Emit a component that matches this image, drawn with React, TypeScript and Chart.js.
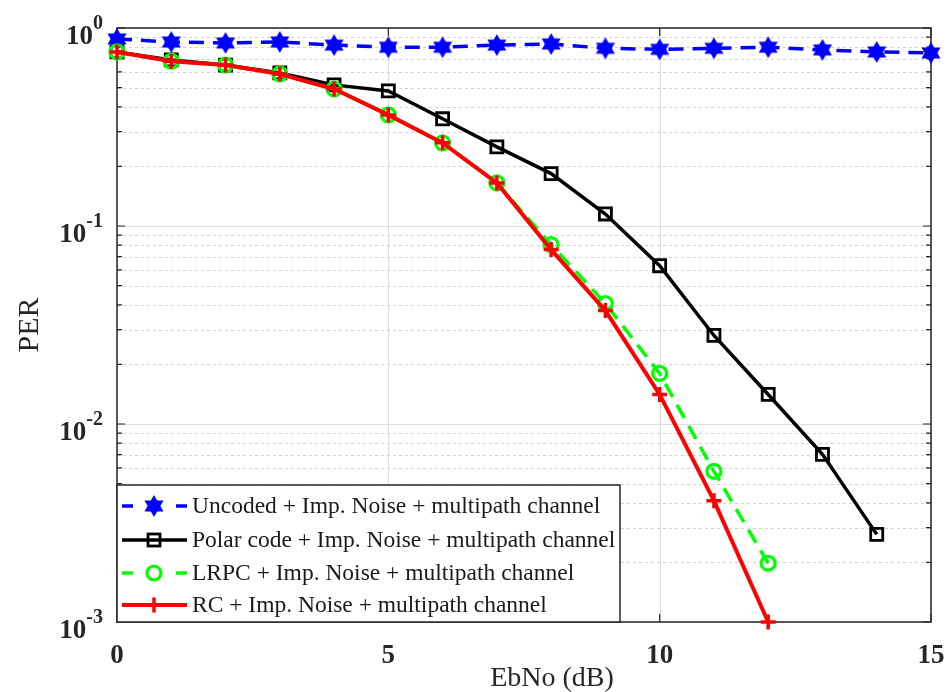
import React, { useEffect, useRef } from "react";
import { Chart, registerables } from "chart.js";
Chart.register(...registerables);

const ebno = [0, 1, 2, 3, 4, 5, 6, 7, 8, 9, 10, 11, 12, 13, 14, 15];
const uncoded = [0.88, 0.85, 0.84, 0.85, 0.82, 0.8, 0.8, 0.82, 0.83, 0.79, 0.78, 0.79, 0.8, 0.775, 0.757, 0.748];
const polar = [0.757, 0.69, 0.65, 0.593, 0.516, 0.481, 0.348, 0.251, 0.184, 0.115, 0.063, 0.028, 0.0141, 0.00703, 0.00277];
const lrpc = [0.757, 0.68, 0.65, 0.586, 0.492, 0.364, 0.263, 0.165, 0.0805, 0.0406, 0.018, 0.00577, 0.00198];
const rc = [0.757, 0.68, 0.65, 0.586, 0.492, 0.364, 0.263, 0.165, 0.076, 0.0374, 0.0141, 0.0041, 0.001];

const labels = [
  "Uncoded + Imp. Noise + multipath channel",
  "Polar code + Imp. Noise + multipath channel",
  "LRPC + Imp. Noise + multipath channel",
  "RC + Imp. Noise + multipath channel",
];
const xTicks = [0, 5, 10, 15];
const yTickExps = [0, -1, -2, -3];
const xTitle = "EbNo (dB)";
const yTitle = "PER";

const SERIF = "'Liberation Serif', 'Times New Roman', serif";

function makeHexagram(r: number, color: string) {
  const c = document.createElement("canvas");
  const s = Math.ceil(r * 2 + 2);
  c.width = s;
  c.height = s;
  const g = c.getContext("2d")!;
  const cx = s / 2, cy = s / 2;
  g.fillStyle = color;
  for (const off of [-Math.PI / 2, Math.PI / 2]) {
    g.beginPath();
    for (let k = 0; k < 3; k++) {
      const a = off + (k * 2 * Math.PI) / 3;
      const px = cx + r * Math.cos(a), py = cy + r * Math.sin(a);
      if (k === 0) g.moveTo(px, py); else g.lineTo(px, py);
    }
    g.closePath();
    g.fill();
  }
  return c;
}

const pts = (arr: number[]) => arr.map((v, i) => ({ x: ebno[i], y: v }));

export default function App() {
  const ref = useRef<HTMLCanvasElement>(null);
  useEffect(() => {
    const star = makeHexagram(11, "#0000ff");
    const styles = [
      { color: "#0000ff", dash: [15, 9], width: 3.5, point: star as any, pr: 11, pbw: 0, pbg: "#0000ff" },
      { color: "#000000", dash: [], width: 3.5, point: "rect", pr: 8.5, pbw: 2.8, pbg: "rgba(0,0,0,0)" },
      { color: "#00ff00", dash: [15, 9], width: 3.5, point: "circle", pr: 7, pbw: 3.2, pbg: "rgba(0,0,0,0)" },
      { color: "#ff0000", dash: [], width: 4, point: "cross", pr: 7.5, pbw: 3.5, pbg: "#ff0000" },
    ];
    const series = [uncoded, polar, lrpc, rc];

    const framePlugin = {
      id: "frame",
      beforeDatasetsDraw(chart: any) {
        const { ctx, chartArea: a, scales } = chart;
        const x = scales.x, y = scales.y;
        ctx.save();
        ctx.lineWidth = 1;
        ctx.strokeStyle = "#d2d2d2";
        ctx.setLineDash([3, 3]);
        for (let e = -3; e < 0; e++) {
          for (let m = 2; m <= 9; m++) {
            const py = Math.round(y.getPixelForValue(m * Math.pow(10, e))) + 0.5;
            ctx.beginPath();
            ctx.moveTo(a.left, py);
            ctx.lineTo(a.right, py);
            ctx.stroke();
          }
        }
        ctx.setLineDash([]);
        ctx.strokeStyle = "#dcdcdc";
        for (const e of yTickExps) {
          const py = Math.round(y.getPixelForValue(Math.pow(10, e))) + 0.5;
          ctx.beginPath();
          ctx.moveTo(a.left, py);
          ctx.lineTo(a.right, py);
          ctx.stroke();
        }
        for (const t of xTicks) {
          const px = Math.round(x.getPixelForValue(t)) + 0.5;
          ctx.beginPath();
          ctx.moveTo(px, a.top);
          ctx.lineTo(px, a.bottom);
          ctx.stroke();
        }
        ctx.strokeStyle = "#262626";
        ctx.lineWidth = 1.5;
        ctx.strokeRect(a.left, a.top, a.right - a.left, a.bottom - a.top);
        ctx.lineWidth = 1.2;
        for (let e = -3; e <= 0; e++) {
          for (let m = 1; m <= 9; m++) {
            if (e === 0 && m > 1) break;
            const py = y.getPixelForValue(m * Math.pow(10, e));
            const len = m === 1 ? 8 : 5;
            ctx.beginPath();
            ctx.moveTo(a.left, py);
            ctx.lineTo(a.left + len, py);
            ctx.moveTo(a.right, py);
            ctx.lineTo(a.right - len, py);
            ctx.stroke();
          }
        }
        for (const t of xTicks) {
          const px = x.getPixelForValue(t);
          ctx.beginPath();
          ctx.moveTo(px, a.bottom);
          ctx.lineTo(px, a.bottom - 8);
          ctx.moveTo(px, a.top);
          ctx.lineTo(px, a.top + 8);
          ctx.stroke();
        }
        ctx.restore();
      },
      afterDraw(chart: any) {
        const { ctx, chartArea: a, scales } = chart;
        const x = scales.x, y = scales.y;
        ctx.save();
        ctx.fillStyle = "#262626";
        ctx.font = `bold 27px ${SERIF}`;
        ctx.textAlign = "center";
        ctx.textBaseline = "alphabetic";
        for (const t of xTicks) {
          ctx.fillText(String(t), x.getPixelForValue(t), 663);
        }
        for (const e of yTickExps) {
          const py = y.getPixelForValue(Math.pow(10, e));
          const sup = String(e);
          ctx.font = `bold 20px ${SERIF}`;
          const sw = ctx.measureText(sup).width;
          ctx.textAlign = "left";
          ctx.fillText(sup, 103 - sw, py + 1);
          ctx.font = `bold 27px ${SERIF}`;
          ctx.textAlign = "right";
          ctx.fillText("10", 103 - sw, py + 16);
        }
        ctx.font = `28px ${SERIF}`;
        ctx.textAlign = "center";
        ctx.fillText(xTitle, 552, 686);
        ctx.save();
        ctx.font = `30px ${SERIF}`;
        ctx.translate(38, (a.top + a.bottom) / 2);
        ctx.rotate(-Math.PI / 2);
        ctx.fillText(yTitle, 0, 0);
        ctx.restore();

        const lx = a.left, ly = 485, lw = 503, lh = a.bottom - 485;
        ctx.fillStyle = "#ffffff";
        ctx.fillRect(lx, ly, lw, lh);
        ctx.strokeStyle = "#262626";
        ctx.lineWidth = 1.5;
        ctx.strokeRect(lx, ly, lw, lh);
        const rows = [506, 540, 573, 605];
        chart.data.datasets.forEach((ds: any, i: number) => {
          const st = styles[i];
          const ry = rows[i];
          ctx.save();
          ctx.strokeStyle = st.color;
          ctx.lineWidth = st.width;
          ctx.beginPath();
          if (st.dash.length) {
            ctx.moveTo(122, ry); ctx.lineTo(133, ry);
            ctx.moveTo(176, ry); ctx.lineTo(187, ry);
          } else {
            ctx.moveTo(122, ry); ctx.lineTo(187, ry);
          }
          ctx.stroke();
          ctx.restore();
          const cx = 154;
          ctx.save();
          if (i === 0) {
            ctx.drawImage(star, cx - star.width / 2, ry - star.height / 2);
          } else if (i === 1) {
            ctx.strokeStyle = st.color; ctx.lineWidth = 2.8;
            ctx.strokeRect(cx - 6, ry - 6, 12, 12);
          } else if (i === 2) {
            ctx.strokeStyle = st.color; ctx.lineWidth = 3.2;
            ctx.beginPath(); ctx.arc(cx, ry, 7, 0, Math.PI * 2); ctx.stroke();
          } else {
            ctx.strokeStyle = st.color; ctx.lineWidth = 3.5;
            ctx.beginPath();
            ctx.moveTo(cx - 7.5, ry); ctx.lineTo(cx + 7.5, ry);
            ctx.moveTo(cx, ry - 7.5); ctx.lineTo(cx, ry + 7.5);
            ctx.stroke();
          }
          ctx.restore();
          ctx.fillStyle = "#1a1a1a";
          ctx.font = `23.5px ${SERIF}`;
          ctx.textAlign = "left";
          ctx.textBaseline = "middle";
          ctx.fillText(ds.label, 192, ry + 1);
        });
        ctx.restore();
      },
    };

    const chart = new Chart(ref.current!, {
      type: "line",
      data: {
        datasets: series.map((s, i) => ({
          label: labels[i],
          data: pts(s),
          order: series.length - 1 - i,
          borderColor: styles[i].color,
          borderWidth: styles[i].width,
          borderDash: styles[i].dash,
          pointStyle: styles[i].point,
          pointRadius: styles[i].pr,
          pointBorderWidth: styles[i].pbw,
          pointBorderColor: styles[i].color,
          pointBackgroundColor: styles[i].pbg,
          tension: 0,
          fill: false,
          clip: false as any,
        })),
      },
      options: {
        animation: false,
        responsive: false,
        layout: { padding: { left: 117, right: 17, top: 28, bottom: 70 } },
        plugins: { legend: { display: false }, tooltip: { enabled: false } },
        scales: {
          x: { type: "linear", min: 0, max: 15, display: false },
          y: { type: "logarithmic", min: 0.001, max: 1, display: false },
        },
      },
      plugins: [framePlugin],
    });
    return () => chart.destroy();
  }, []);
  return (
    <div style={{ position: "absolute", left: 0, top: 0, width: 948, height: 692, background: "#fff" }}>
      <canvas ref={ref} width={948} height={692} style={{ display: "block" }} />
    </div>
  );
}
